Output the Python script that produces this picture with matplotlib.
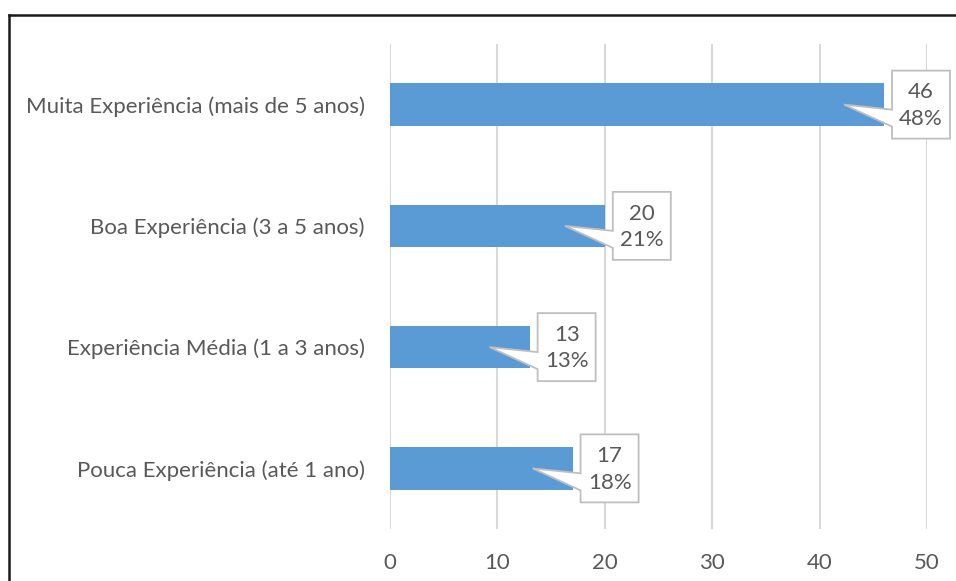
import matplotlib.pyplot as plt
import matplotlib.transforms as mtransforms
from matplotlib.patches import Polygon
from matplotlib.lines import Line2D

categorias = ['Pouca Experiência (até 1 ano)',
              'Experiência Média (1 a 3 anos)',
              'Boa Experiência (3 a 5 anos)',
              'Muita Experiência (mais de 5 anos)']
valores = [17, 13, 20, 46]
percentagens = ['18%', '13%', '21%', '48%']
xticks = [0, 10, 20, 30, 40, 50]

cor_barra = '#5B9BD5'
cor_texto = '#595959'
plt.rcParams['font.family'] = ['Lato', 'DejaVu Sans']

fig = plt.figure(figsize=(9.56, 5.81), dpi=100)
ax = fig.add_axes([390/956, 1-529/581, 537/956, 485/581])

ypos = list(range(len(categorias)))
ax.barh(ypos, valores, height=0.35, color=cor_barra, zorder=2)
ax.set_xlim(0, 50)
ax.set_ylim(-0.5, len(categorias) - 0.5)
ax.set_xticks(xticks)
ax.set_yticks(ypos)
ax.set_yticklabels(categorias)
ax.tick_params(axis='both', length=0, labelsize=16, labelcolor=cor_texto)
ax.tick_params(axis='x', pad=17)
ax.tick_params(axis='y', pad=18)
ax.grid(axis='x', color='#D9D9D9', linewidth=1.5, zorder=0)
for s in ax.spines.values():
    s.set_visible(False)

# balões com valor e percentagem (offsets em pixels a partir da ponta da barra)
forma = [(-40, 0), (8, 5), (8, -34), (66, -34), (66, 34), (8, 34), (8, 22)]
for y, v, p in zip(ypos, valores, percentagens):
    tr = mtransforms.Affine2D().scale(1, -1) + mtransforms.ScaledTranslation(v, y, ax.transData)
    balao = Polygon(forma, closed=True, facecolor='white', edgecolor='#BFBFBF',
                    linewidth=1.3, transform=tr, zorder=3, clip_on=False)
    ax.add_patch(balao)
    ax.text(37, 1, f'{v}\n{p}', transform=tr, ha='center', va='center',
            fontsize=16, color=cor_texto, linespacing=1.4, zorder=4)

# moldura da figura
fig.add_artist(Line2D([9/956, 9/956], [0, 1-15/581], color='#1a1a1a', linewidth=1.8))
fig.add_artist(Line2D([9/956, 1], [1-15/581, 1-15/581], color='#1a1a1a', linewidth=1.8))

fig.savefig('out.png', dpi=100)
